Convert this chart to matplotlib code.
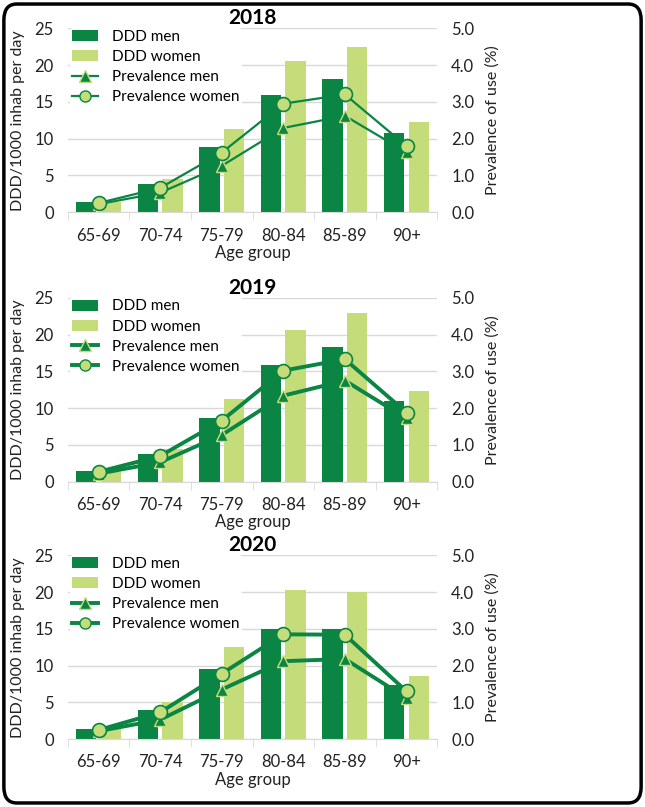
import matplotlib.pyplot as plt
from matplotlib.patches import FancyBboxPatch
from matplotlib.lines import Line2D
from matplotlib.patches import Patch
import numpy as np

plt.rcParams['font.family'] = ['Lato', 'DejaVu Sans']

# Data
age_groups = ["65-69", "70-74", "75-79", "80-84", "85-89", "90+"]
years = ["2018", "2019", "2020"]

ddd_men = {
    "2018": [1.45, 3.85, 8.85, 15.9, 18.1, 10.8],
    "2019": [1.45, 3.75, 8.7, 15.8, 18.3, 11.0],
    "2020": [1.45, 4.0, 9.55, 15.0, 15.0, 7.4],
}
ddd_women = {
    "2018": [1.4, 4.5, 11.3, 20.5, 22.4, 12.25],
    "2019": [1.35, 4.5, 11.3, 20.6, 22.9, 12.3],
    "2020": [1.4, 5.05, 12.55, 20.3, 20.0, 8.65],
}
prev_men = {
    "2018": [0.22, 0.53, 1.26, 2.29, 2.62, 1.63],
    "2019": [0.22, 0.53, 1.27, 2.34, 2.75, 1.72],
    "2020": [0.22, 0.53, 1.35, 2.12, 2.18, 1.12],
}
prev_women = {
    "2018": [0.25, 0.66, 1.62, 2.95, 3.2, 1.8],
    "2019": [0.27, 0.7, 1.66, 3.02, 3.33, 1.88],
    "2020": [0.25, 0.73, 1.78, 2.85, 2.84, 1.3],
}
line_widths = {"2018": 1.6, "2019": 2.8, "2020": 2.8}

dark = "#0a8543"
light = "#c5dc7a"
grid_c = "#d9d9d9"
txt = "#222222"

fig = plt.figure(figsize=(6.45, 8.07), dpi=100)

# outer rounded frame
frame = FancyBboxPatch((0.006, 0.005), 0.988, 0.99, boxstyle="round,pad=0,rounding_size=0.02",
                       transform=fig.transFigure, fill=False, edgecolor="black", linewidth=2.5)
fig.patches.append(frame)

bottoms = [0.737, 0.403, 0.084]
x = np.arange(len(age_groups))
w = 0.33

for yr, b in zip(years, bottoms):
    ax = fig.add_axes([0.105, b, 0.573, 0.228])
    ax2 = ax.twinx()
    ax.bar(x - 0.2, ddd_men[yr], w, color=dark, zorder=2)
    ax.bar(x + 0.2, ddd_women[yr], w, color=light, zorder=2)
    lw = line_widths[yr]
    ax2.plot(x, prev_men[yr], color=dark, lw=lw, marker="^", markersize=9,
             markerfacecolor=dark, markeredgecolor=light, markeredgewidth=1, zorder=3)
    ax2.plot(x, prev_women[yr], color=dark, lw=lw, marker="o", markersize=10,
             markerfacecolor=light, markeredgecolor=dark, markeredgewidth=1.2, zorder=3)

    ax.set_ylim(0, 25)
    ax2.set_ylim(0, 5)
    ax.set_xlim(-0.5, 5.5)
    ax.set_yticks(range(0, 26, 5))
    ax2.set_yticks(np.arange(0, 5.01, 1))
    ax2.set_yticklabels([f"{v:.1f}" for v in np.arange(0, 5.01, 1)])
    ax.yaxis.grid(True, color=grid_c, lw=1, zorder=0)
    ax.set_axisbelow(True)

    for a in (ax, ax2):
        for s in ("top", "left", "right"):
            a.spines[s].set_visible(False)
        a.tick_params(axis="y", length=0, labelsize=12, colors=txt, pad=10)
    ax2.spines["bottom"].set_visible(False)
    ax.spines["bottom"].set_color(grid_c)
    ax.set_xticks(x)
    ax.set_xticklabels(age_groups, fontsize=12, color=txt)
    ax.set_xticks(np.arange(-0.5, 6, 1), minor=True)
    ax.tick_params(axis="x", which="major", length=0, pad=11)
    ax.tick_params(axis="x", which="minor", length=6, color=grid_c, direction="out")
    ax.set_xlabel("Age group", fontsize=12, labelpad=1, color=txt)
    ax.set_ylabel("DDD/1000 inhab per day", fontsize=11.5, labelpad=7, color=txt)
    ax2.set_ylabel("Prevalence of use (%)", fontsize=11.5, labelpad=8, color=txt)

    ax2.set_title(yr, fontsize=15, fontweight="bold", pad=1, x=0.5)

    handles = [
        Patch(facecolor=dark, edgecolor="none"),
        Patch(facecolor=light, edgecolor="none"),
        Line2D([], [], color=dark, lw=lw, marker="^", markersize=8,
               markerfacecolor=dark, markeredgecolor=light),
        Line2D([], [], color=dark, lw=lw, marker="o", markersize=8,
               markerfacecolor=light, markeredgecolor=dark),
    ]
    leg = ax.legend(handles, ["DDD men", "DDD women", "Prevalence men", "Prevalence women"],
                    loc="upper left", bbox_to_anchor=(-0.015, 1.045), fontsize=11,
                    frameon=True, framealpha=1, facecolor="white", edgecolor="none",
                    handlelength=1.7, handleheight=0.75, labelspacing=0.4,
                    borderpad=0.15, handletextpad=0.9, numpoints=1)
    leg.set_zorder(1)

fig.savefig("out.png", dpi=100)
